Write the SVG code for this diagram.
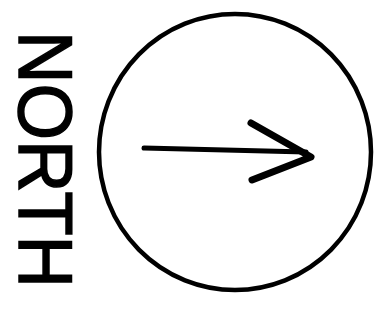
<svg xmlns="http://www.w3.org/2000/svg" width="382" height="321" viewBox="0 0 382 321">
<style>
.ln{fill:none;stroke:#000;stroke-linecap:round;stroke-linejoin:round}
.lbl{font-family:"Liberation Sans",Arial,sans-serif;font-weight:normal;fill:#000;stroke:#000;stroke-width:1.5}
</style>
<rect width="382" height="321" fill="#fff"/>
<g id="label">
<text class="lbl" transform="translate(19,31) rotate(90)" font-size="76" textLength="257" lengthAdjust="spacingAndGlyphs">NORTH</text>
</g>
<g id="compass">
<ellipse class="ln" cx="235" cy="152" rx="136" ry="138" stroke-width="4.5"/>
</g>
<g id="connectors">
<path class="ln" d="M144,148 L306,152" stroke-width="5"/>
<path class="ln" d="M251,123 L311,157 L252,180" stroke-width="7"/>
</g>
</svg>
